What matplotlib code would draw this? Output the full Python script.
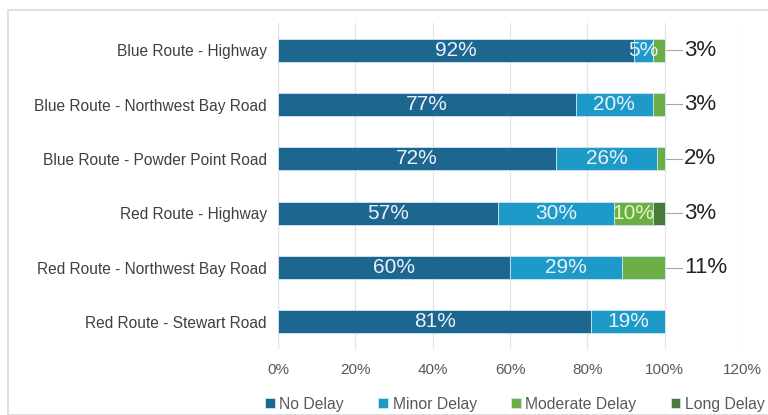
import numpy as np
import matplotlib
matplotlib.use("agg")
import matplotlib.pyplot as plt
from matplotlib.patches import Rectangle

# Data (percent of trips)
routes = ["Blue Route - Highway", "Blue Route - Northwest Bay Road",
          "Blue Route - Powder Point Road", "Red Route - Highway",
          "Red Route - Northwest Bay Road", "Red Route - Stewart Road"]
no_delay = [92, 77, 72, 57, 60, 81]
minor_delay = [5, 20, 26, 30, 29, 19]
moderate_delay = [3, 3, 2, 10, 11, 0]
long_delay = [0, 0, 0, 3, 0, 0]

series_names = ["No Delay", "Minor Delay", "Moderate Delay", "Long Delay"]
colors = ["#1d6690", "#1e9ac9", "#6aae45", "#4a7a38"]
label_colors = ["#e8f2f8", "#e8f2f8", "#e6f5c4", "#e6f5c4"]

# which segments get an outside label with a leader line (row, series)
outside = {(0, 2), (1, 2), (2, 2), (3, 3), (4, 2)}

plt.rcParams['font.family'] = ['Liberation Sans', 'DejaVu Sans']

fig = plt.figure(figsize=(7.68, 4.15), dpi=100)
ax = fig.add_axes([278 / 768, 1 - 349 / 415, (742 - 278) / 768, 326 / 415])

# light frame around the chart area
fig.patches.append(Rectangle((8 / 768, 0), 1.0, 1 - 10 / 415, transform=fig.transFigure,
                             fill=False, edgecolor="#d9d9d9", linewidth=1.2))

y = np.arange(len(routes))
data = [no_delay, minor_delay, moderate_delay, long_delay]
left = np.zeros(len(routes))
for k, (vals, name, col) in enumerate(zip(data, series_names, colors)):
    vals = np.array(vals) / 100.0
    ax.barh(y, vals, left=left, height=0.42, color=col, label=name,
            edgecolor="#cfe6f2", linewidth=0.6, zorder=3)
    for i, v in enumerate(vals):
        if v <= 0:
            continue
        pct = "%d%%" % round(v * 100)
        if (i, k) in outside:
            end = left[i] + v
            ax.plot([end, 1.045], [i, i], color="#a6a6a6", linewidth=0.8, zorder=2)
            ax.text(1.05, i, pct, va="center", ha="left", fontsize=16, color="#222222")
        else:
            ax.text(left[i] + v / 2, i, pct, va="center", ha="center",
                    fontsize=15, color=label_colors[k], zorder=4)
    left = left + vals

ax.set_xlim(0, 1.2)
ax.set_ylim(len(routes) - 0.5, -0.5)
ax.set_yticks(y)
ax.set_yticklabels(routes, fontsize=11.2, color="#404040")
ax.set_xticks(np.arange(0, 1.21, 0.2))
ax.set_xticklabels(["%d%%" % (t * 20) for t in range(7)], fontsize=11, color="#595959")
ax.tick_params(axis="both", length=0, pad=8)
ax.tick_params(axis="x", pad=10)
ax.grid(axis="x", color="#e3e3e3", linewidth=0.9, zorder=0)
for s in ax.spines.values():
    s.set_visible(False)
ax.axvline(0, color="#d9d9d9", linewidth=0.9, zorder=1)

handles, labels = ax.get_legend_handles_labels()
fig.legend(handles, labels, loc="center", bbox_to_anchor=(515 / 768, 1 - 404 / 415),
           ncol=4, frameon=False, fontsize=11.3, handlelength=0.6, handleheight=0.6,
           handletextpad=0.3, columnspacing=2.2, labelcolor="#595959")

fig.savefig("out.png", dpi=100)
